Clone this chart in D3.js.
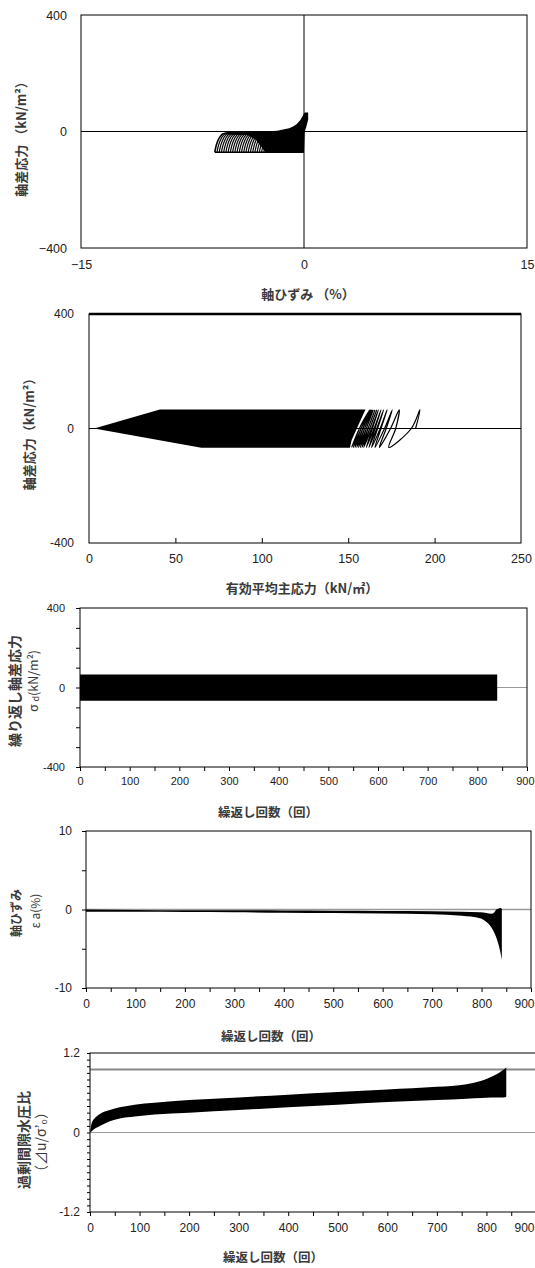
<!DOCTYPE html>
<html><head><meta charset="utf-8">
<script src="https://cdn.jsdelivr.net/npm/d3@7"></script>
<style>
body{margin:0;background:#fff;}
svg{display:block;}
.tk text{font-family:"Liberation Sans",Arial,sans-serif;fill:#222;}
.jp{font-family:"Noto Sans CJK JP",sans-serif;fill:#3a3a3a;font-weight:700;}
</style></head>
<body>
<script>
// ---------- Panel 1 : 軸差応力 vs 軸ひずみ ----------
const p1StrainTicks = [-15, 0, 15];
const p1StressTicks = [-400, 0, 400];
const p1DenseStrain = [-5.3, -4.0, -3.0, -2.3, -1.8, -1.4, -1.0, -0.74, -0.5, -0.27, -0.1, 0.0, 0.05, 0.28, 0.28, 0.15, 0.05, 0.02, 0.0, -2.6, -3.2, -3.8, -5.3];
const p1DenseStress = [-4, -4, -2, 1, 3, 7, 11, 17, 25, 38, 52, 62, 65, 65, 40, 15, 0, -40, -71, -71, -30, -12, -10];
const p1LoopBase = [-6.0, -5.85, -5.7, -5.55, -5.4, -5.25, -5.1, -4.95, -4.8, -4.65, -4.5, -4.35, -4.2, -4.05, -3.9, -3.75, -3.6, -3.45, -3.3, -3.15, -3.0, -2.85, -2.7];
const p1ArcDx = [0, 0.04, 0.12, 0.24, 0.38, 0.56, 0.78, 1.0];
const p1ArcStress = [-71, -60, -44, -28, -16, -8, -5, -4];

// ---------- Panel 2 : 応力経路 ----------
const p2XTicks = [0, 50, 100, 150, 200, 250];
const p2YTicks = [-400, 0, 400];
const p2DenseP = [3, 41, 160, 158, 155, 152, 151, 65];
const p2DenseQ = [0, 66, 66, 40, 0, -40, -67, -67];
const p2PathP = [189, 191.5, 186.5, 173.5, 177.5, 179.5, 174.5, 168, 172, 175.5, 171, 165.5,
  169, 172.5, 168.5, 163.5, 167, 170.5, 166.5, 162, 165.5, 169, 165, 160.5,
  164, 167.5, 163.5, 159, 162.5, 166.5, 162.5, 158, 161.5, 165.5, 161.5, 157,
  160.5, 164.5, 160.5, 156, 159.5, 164, 159.5, 155, 158.5, 163.5, 158.5, 154,
  157.5, 163, 157.5, 153, 156.5, 162.5, 156.5, 152];
const p2PathQ = [0, 65, 0, -66, 0, 65, 0, -66, 0, 65, 0, -66,
  0, 65, 0, -66, 0, 65, 0, -66, 0, 65, 0, -66,
  0, 65, 0, -66, 0, 65, 0, -66, 0, 65, 0, -66,
  0, 65, 0, -66, 0, 65, 0, -66, 0, 65, 0, -66,
  0, 65, 0, -66, 0, 65, 0, -66];

// ---------- Panel 3 : 繰り返し軸差応力 ----------
const cycXTicks = [0, 50, 100, 150, 200, 250, 300, 350, 400, 450, 500, 550, 600, 650, 700, 750, 800, 850, 900];
const cycXLabels = [0, 100, 200, 300, 400, 500, 600, 700, 800, 900];
const p3YTicks = [-400, -300, -200, -100, 0, 100, 200, 300, 400];
const p3YLabels = [-400, 0, 400];
const p3N = [0, 840];
const p3Upper = [66, 66];
const p3Lower = [-67, -67];

// ---------- Panel 4 : 軸ひずみ ----------
const p4YTicks = [-10, -5, 0, 5, 10];
const p4YLabels = [-10, 0, 10];
const p4N     = [0, 100, 200, 300, 400, 500, 600, 700, 760, 797, 810, 820, 826, 830, 834, 838, 841];
const p4Upper = [0, -0.05, -0.08, -0.1, -0.12, -0.15, -0.18, -0.22, -0.28, -0.35, -0.45, -0.55, -0.35, 0, 0.1, 0.2, 0.1];
const p4Lower = [-0.3, -0.3, -0.33, -0.35, -0.4, -0.45, -0.5, -0.6, -0.8, -1.1, -1.6, -2.3, -3.0, -3.6, -4.4, -5.4, -6.4];

// ---------- Panel 5 : 過剰間隙水圧比 ----------
const p5YTicks = [-1.2, -1.1, -1.0, -0.9, -0.8, -0.7, -0.6, -0.5, -0.4, -0.3, -0.2, -0.1, 0, 0.1, 0.2, 0.3, 0.4, 0.5, 0.6, 0.7, 0.8, 0.9, 1.0, 1.1, 1.2];
const p5YLabels = [-1.2, 0, 1.2];
const p5RefLine = 0.95;
const p5N     = [0, 2, 5, 10, 20, 40, 60, 90, 130, 200, 300, 400, 500, 600, 700, 760, 790, 810, 825, 835, 840];
const p5Upper = [0, 0.10, 0.17, 0.22, 0.28, 0.34, 0.38, 0.42, 0.45, 0.49, 0.53, 0.57, 0.61, 0.65, 0.69, 0.73, 0.78, 0.84, 0.90, 0.95, 0.98];
const p5Lower = [0, 0.01, 0.03, 0.06, 0.10, 0.17, 0.21, 0.24, 0.27, 0.30, 0.34, 0.38, 0.42, 0.46, 0.49, 0.51, 0.52, 0.53, 0.53, 0.53, 0.54];

const W = 535, H = 1268;
const svg = d3.select("body").append("svg").attr("width", W).attr("height", H);

let clipId = 0;
function panel(c) {
  const x = d3.scaleLinear().domain(c.xd).range([c.l, c.r]);
  const y = d3.scaleLinear().domain(c.yd).range([c.b, c.t]);
  const id = "clip" + (clipId++);
  svg.append("clipPath").attr("id", id).append("rect")
    .attr("x", c.l).attr("y", c.t).attr("width", c.r - c.l).attr("height", c.b - c.t);
  const g = svg.append("g").attr("clip-path", `url(#${id})`);
  return {x, y, g, c};
}
function frame(P, sw) {
  svg.append("rect").attr("x", P.c.l).attr("y", P.c.t)
    .attr("width", P.c.r - P.c.l).attr("height", P.c.b - P.c.t)
    .attr("fill", "none").attr("stroke", "#000").attr("stroke-width", sw || 1);
}
function axisY(P, ticks, labels, size, pad, fs, fmt) {
  const a = d3.axisLeft(P.y).tickValues(ticks).tickSize(size).tickPadding(pad)
    .tickFormat(v => labels.some(l => Math.abs(l - v) < 1e-9) ? fmt(v) : "");
  const g = svg.append("g").attr("class", "tk").attr("transform", `translate(${P.c.l},0)`).call(a);
  g.select(".domain").remove();
  g.selectAll("line").attr("stroke", "#000");
  g.selectAll("text").attr("font-size", fs);
}
function axisX(P, ticks, labels, size, pad, fs, fmt) {
  const a = d3.axisBottom(P.x).tickValues(ticks).tickSize(size).tickPadding(pad)
    .tickFormat(v => labels.some(l => Math.abs(l - v) < 1e-9) ? fmt(v) : "");
  const g = svg.append("g").attr("class", "tk").attr("transform", `translate(0,${P.c.b})`).call(a);
  g.select(".domain").remove();
  g.selectAll("line").attr("stroke", "#000");
  g.selectAll("text").attr("font-size", fs);
  g.selectAll(".tick").each(function (d) {
    const px = P.x(d);
    if (px + 10 > W) d3.select(this).select("text").attr("text-anchor", "end").attr("x", W - 1 - px);
  });
}
function jpText(x, y, txt, fs, rot) {
  const t = svg.append("text").attr("class", "jp").attr("font-size", fs)
    .attr("text-anchor", "middle").attr("dominant-baseline", "central");
  if (rot) t.attr("transform", `translate(${x},${y}) rotate(-90)`);
  else t.attr("x", x).attr("y", y);
  if (txt) t.text(txt);
  return t;
}
const hy = v => String(v);
const mi = v => String(v).replace("-", "\u2212");

// ===== Panel 1 =====
{
  const P = panel({l: 81, r: 527, t: 15, b: 248, xd: [-15, 15], yd: [-400, 400]});
  const {x, y, g} = P;
  g.append("line").attr("x1", x(0)).attr("x2", x(0)).attr("y1", y(-400)).attr("y2", y(400)).attr("stroke", "#000");
  g.append("line").attr("x1", x(-15)).attr("x2", x(15)).attr("y1", y(0)).attr("y2", y(0)).attr("stroke", "#000");
  const poly = p1DenseStrain.map((s, i) => [x(s), y(p1DenseStress[i])]);
  g.append("path").attr("d", "M" + poly.join("L") + "Z").attr("fill", "#000");
  const arc = d3.line().curve(d3.curveCatmullRom);
  p1LoopBase.forEach((b, k) => {
    const pts = p1ArcDx.map((d, i) => [x(b + d), y(p1ArcStress[i])]);
    g.append("path").attr("d", arc(pts)).attr("fill", "none").attr("stroke", "#000")
      .attr("stroke-width", k === 0 ? 1.6 : 1.2);
  });
  g.append("line").attr("x1", x(p1LoopBase[0])).attr("x2", x(0)).attr("y1", y(-71)).attr("y2", y(-71))
    .attr("stroke", "#000").attr("stroke-width", 1.5);
  frame(P);
  axisY(P, p1StressTicks, p1StressTicks, 0, 14, 12.5, mi);
  axisX(P, p1StrainTicks, p1StrainTicks, 0, 12, 12.5, mi);
  jpText(308, 293, "軸ひずみ （%）", 13);
  jpText(20, 136, "軸差応力 （kN/m²）", 13, true);
}

// ===== Panel 2 =====
{
  const P = panel({l: 89, r: 521, t: 314, b: 543, xd: [0, 250], yd: [-400, 400]});
  const {x, y, g} = P;
  g.append("line").attr("x1", x(0)).attr("x2", x(250)).attr("y1", y(0)).attr("y2", y(0)).attr("stroke", "#000");
  const poly = p2DenseP.map((p, i) => [x(p), y(p2DenseQ[i])]);
  g.append("path").attr("d", "M" + poly.join("L") + "Z").attr("fill", "#000");
  const ln = d3.line().curve(d3.curveCatmullRom.alpha(0.5));
  g.append("path").attr("d", ln(p2PathP.map((p, i) => [x(p), y(p2PathQ[i])])))
    .attr("fill", "none").attr("stroke", "#000").attr("stroke-width", 1.2);
  frame(P);
  svg.append("line").attr("x1", P.c.l).attr("x2", P.c.r).attr("y1", P.c.t).attr("y2", P.c.t)
    .attr("stroke", "#000").attr("stroke-width", 2.5);
  const inner = d3.axisBottom(x).tickValues(p2XTicks.slice(1, -1)).tickSize(-5).tickFormat("");
  const gi = svg.append("g").attr("transform", `translate(0,${P.c.b})`).call(inner);
  gi.select(".domain").remove(); gi.selectAll("line").attr("stroke", "#000");
  axisY(P, p2YTicks, p2YTicks, 0, 15, 12, hy);
  axisX(P, p2XTicks, p2XTicks, 0, 11, 12.5, hy);
  jpText(302, 587, "有効平均主応力（kN/㎡）", 13);
  jpText(28, 431, "軸差応力（kN/m²）", 13, true);
}

// ===== Panel 3 =====
{
  const P = panel({l: 80, r: 527, t: 608, b: 767, xd: [0, 900], yd: [-400, 400]});
  const {x, y, g} = P;
  g.append("line").attr("x1", x(0)).attr("x2", x(900)).attr("y1", y(0)).attr("y2", y(0)).attr("stroke", "#999");
  const ar = d3.area().x((d, i) => x(p3N[i])).y0((d, i) => y(p3Lower[i])).y1((d, i) => y(p3Upper[i]));
  g.append("path").attr("d", ar(p3N)).attr("fill", "#000");
  frame(P);
  axisY(P, p3YTicks, p3YLabels, 4, 11, 11, hy);
  axisX(P, cycXTicks, cycXLabels, 4, 6, 11, hy);
  jpText(268, 811, "繰返し回数（回）", 12.5);
  jpText(14, 691, "繰り返し軸差応力", 14, true);
  const t = jpText(32, 681, "", 12.5, true).style("font-weight", 400);
  t.append("tspan").text("σ ");
  t.append("tspan").attr("font-size", 9).attr("dy", 3).text("d");
  t.append("tspan").attr("dy", -3).text("(kN/m²)");
}

// ===== Panel 4 =====
{
  const P = panel({l: 86, r: 531, t: 831, b: 988, xd: [0, 900], yd: [-10, 10]});
  const {x, y, g} = P;
  g.append("line").attr("x1", x(0)).attr("x2", x(900)).attr("y1", y(0)).attr("y2", y(0)).attr("stroke", "#999").attr("stroke-width", 1.5);
  const ar = d3.area().curve(d3.curveMonotoneX).x((d, i) => x(p4N[i])).y0((d, i) => y(p4Lower[i])).y1((d, i) => y(p4Upper[i]));
  g.append("path").attr("d", ar(p4N)).attr("fill", "#000");
  frame(P);
  axisY(P, p4YTicks, p4YLabels, 4, 10, 12, hy);
  axisX(P, cycXTicks, cycXLabels, 4, 7, 12, hy);
  jpText(271, 1035, "繰返し回数（回）", 12.5);
  jpText(15, 913, "軸ひずみ", 12, true);
  jpText(34, 911, "ε a(%)", 12, true).style("font-weight", 400);
}

// ===== Panel 5 =====
{
  const P = panel({l: 90, r: 536, t: 1053, b: 1212, xd: [0, 900], yd: [-1.2, 1.2]});
  const {x, y, g} = P;
  g.append("line").attr("x1", x(0)).attr("x2", x(900)).attr("y1", y(0)).attr("y2", y(0)).attr("stroke", "#999");
  g.append("line").attr("x1", x(0)).attr("x2", x(900)).attr("y1", y(p5RefLine)).attr("y2", y(p5RefLine)).attr("stroke", "#888").attr("stroke-width", 2);
  const ar = d3.area().curve(d3.curveMonotoneX).x((d, i) => x(p5N[i])).y0((d, i) => y(p5Lower[i])).y1((d, i) => y(p5Upper[i]));
  g.append("path").attr("d", ar(p5N)).attr("fill", "#000");
  frame(P);
  axisY(P, p5YTicks, p5YLabels, 3, 7, 12, v => hy(v === 0 ? 0 : v.toFixed(1)));
  axisX(P, cycXTicks, cycXLabels, 4, 7, 12, hy);
  jpText(273, 1256, "繰返し回数（回）", 12.5);
  jpText(23, 1140, "過剰間隙水圧比", 14, true);
  jpText(40, 1142, "（⊿u/σ’₀）", 14, true).style("font-weight", 400);
}
</script>
</body></html>
